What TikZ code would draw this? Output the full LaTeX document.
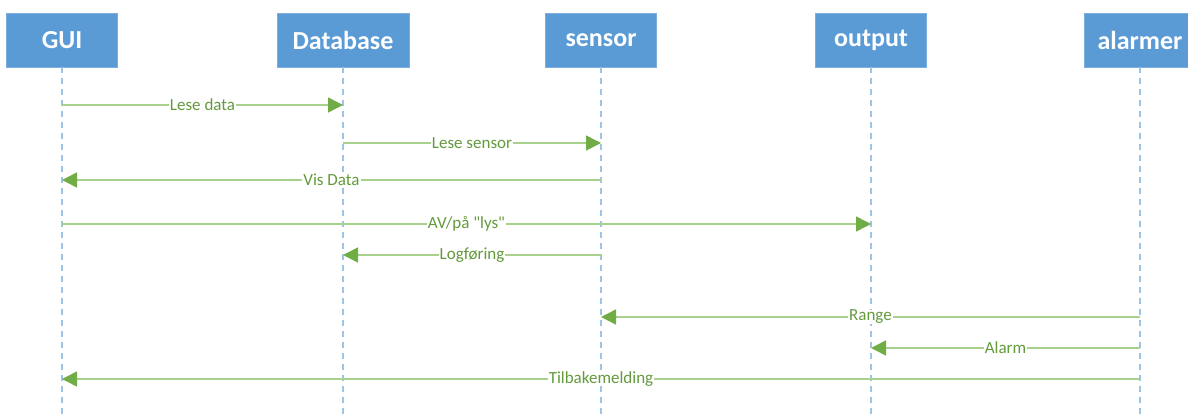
\documentclass[tikz,border=0pt]{standalone}
\usepackage{fontspec}
\setmainfont{Carlito}[Ligatures=TeXOff]
\usetikzlibrary{arrows.meta}
\definecolor{boxblue}{HTML}{5B9BD5}
\definecolor{lifeblue}{HTML}{9DC3E6}
\definecolor{msggreen}{HTML}{70AD47}
\definecolor{msgline}{HTML}{A9D18E}
\definecolor{msgtext}{HTML}{639A3C}
\tikzset{
  actor/.style={draw=boxblue!80!white, fill=boxblue, minimum width=111pt, minimum height=54pt,
    inner sep=0pt, text=white, font=\fontsize{26}{30}\selectfont\bfseries},
  lifeline/.style={draw=lifeblue, line width=1.3pt, dash pattern=on 6pt off 5pt},
  msg/.style={draw=msgline, line width=1.5pt,
    -{Triangle[length=15pt,width=15pt,color=msggreen]}},
  msglabel/.style={fill=white, inner xsep=1pt, inner ysep=0pt, text=msgtext,
    font=\fontsize{17}{20}\selectfont}
}
\begin{document}
\begin{tikzpicture}[x=1pt,y=-1pt]
\useasboundingbox (0,0) rectangle (1188,419);
% participants
\node[actor] (gui) at (62,40) {GUI};
\node[actor, minimum width=132pt] (db) at (343,40) {Database};
\node[actor] (sensor) at (601,40) {sensor};
\node[actor] (out) at (871,40) {output};
\node[actor] (alarm) at (1140,40) {alarmer};
% lifelines
\foreach \p/\x in {gui/62, db/343, sensor/601, out/871, alarm/1140}{
  \coordinate (\p-end) at (\x,419);
  \draw[lifeline] (\p.south) -- (\p-end);
}
% message anchors on each lifeline
\foreach \p/\x in {gui/62, db/343, sensor/601, out/871, alarm/1140}{
  \foreach \n/\y in {m1/105, m2/143, m3/180, m4/224, m5/255, m6/317, m7/348, m8/379}{
    \coordinate (\p-\n) at (\x,\y);
  }
}
% messages
\draw[msg] (gui-m1) -- node[msglabel]{Lese data} (db-m1);
\draw[msg] (db-m2) -- node[msglabel]{Lese sensor} (sensor-m2);
\draw[msg] (sensor-m3) -- node[msglabel]{Vis Data} (gui-m3);
\draw[msg] (gui-m4) -- node[msglabel]{AV/på "lys"} (out-m4);
\draw[msg] (sensor-m5) -- node[msglabel]{Logføring} (db-m5);
\draw[msg] (alarm-m6) -- node[msglabel]{Range} (sensor-m6);
\draw[msg] (alarm-m7) -- node[msglabel]{Alarm} (out-m7);
\draw[msg] (alarm-m8) -- node[msglabel]{Tilbakemelding} (gui-m8);
\end{tikzpicture}
\end{document}
